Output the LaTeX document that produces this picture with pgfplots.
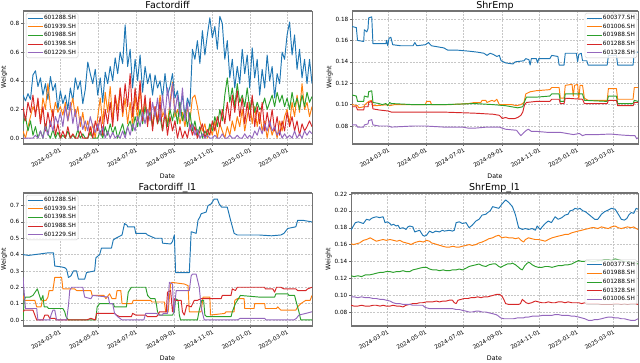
\documentclass[border=0pt]{standalone}
\usepackage{fontspec}
\setmainfont{DejaVu Sans}
\usepackage{pgfplots}
\usepackage{pgfplotstable}
\pgfplotsset{compat=1.18}
\definecolor{c0}{HTML}{1F77B4}
\definecolor{c1}{HTML}{FF7F0E}
\definecolor{c2}{HTML}{2CA02C}
\definecolor{c3}{HTML}{D62728}
\definecolor{c4}{HTML}{9467BD}

% day index: 0 = 2024-01-01
\pgfplotstableread{
d a b c e f
1 0.30 0.05 0.10 0.22 0.00
5 0.26 0.00 0.15 0.12 0.00
9 0.31 0.08 0.05 0.25 0.00
13 0.27 0.15 0.12 0.18 0.00
17 0.44 0.22 0.02 0.30 0.00
21 0.47 0.18 0.08 0.15 0.02
25 0.36 0.25 0.00 0.28 0.00
29 0.42 0.12 0.05 0.10 0.05
33 0.30 0.28 0.00 0.22 0.00
37 0.38 0.20 0.10 0.05 0.08
41 0.27 0.38 0.03 0.18 0.02
45 0.43 0.22 0.00 0.08 0.12
49 0.33 0.15 0.06 0.20 0.05
53 0.38 0.25 0.00 0.02 0.15
57 0.20 0.18 0.04 0.10 0.10
61 0.33 0.22 0.00 0.00 0.18
65 0.24 0.16 0.02 0.05 0.08
69 0.30 0.25 0.00 0.00 0.22
73 0.20 0.12 0.05 0.08 0.12
77 0.35 0.20 0.00 0.00 0.25
81 0.26 0.28 0.02 0.03 0.10
85 0.42 0.15 0.00 0.00 0.20
89 0.34 0.22 0.06 0.00 0.05
93 0.40 0.08 0.00 0.05 0.15
97 0.24 0.18 0.03 0.00 0.06
101 0.34 0.05 0.00 0.00 0.12
105 0.53 0.12 0.00 0.00 0.05
109 0.45 0.02 0.04 0.08 0.15
113 0.38 0.10 0.00 0.00 0.08
117 0.48 0.00 0.00 0.12 0.04
121 0.30 0.15 0.00 0.05 0.10
125 0.42 0.28 0.05 0.15 0.02
129 0.25 0.10 0.00 0.02 0.08
133 0.46 0.32 0.08 0.20 0.00
137 0.38 0.18 0.02 0.10 0.05
141 0.50 0.36 0.10 0.25 0.00
145 0.40 0.12 0.03 0.08 0.04
149 0.56 0.30 0.08 0.30 0.00
153 0.45 0.20 0.00 0.12 0.02
157 0.60 0.35 0.05 0.35 0.00
161 0.52 0.15 0.10 0.18 0.05
165 0.79 0.28 0.02 0.38 0.00
169 0.50 0.10 0.08 0.22 0.08
173 0.62 0.25 0.12 0.45 0.02
177 0.35 0.08 0.05 0.15 0.10
181 0.55 0.30 0.15 0.35 0.05
185 0.40 0.12 0.08 0.20 0.15
189 0.58 0.35 0.20 0.40 0.08
193 0.32 0.15 0.10 0.12 0.18
197 0.50 0.28 0.22 0.30 0.10
201 0.38 0.10 0.12 0.08 0.20
205 0.45 0.25 0.18 0.28 0.12
209 0.30 0.08 0.08 0.05 0.25
213 0.44 0.22 0.20 0.22 0.15
217 0.35 0.12 0.10 0.10 0.28
221 0.40 0.30 0.15 0.25 0.12
225 0.28 0.15 0.05 0.05 0.30
229 0.45 0.20 0.18 0.18 0.15
233 0.30 0.10 0.08 0.02 0.35
237 0.36 0.25 0.20 0.15 0.20
241 0.45 0.39 0.12 0.05 0.38
245 0.28 0.15 0.22 0.12 0.18
249 0.33 0.20 0.10 0.00 0.30
253 0.20 0.10 0.25 0.08 0.15
257 0.30 0.18 0.12 0.00 0.35
261 0.15 0.08 0.20 0.05 0.12
265 0.28 0.22 0.08 0.00 0.25
269 0.22 0.12 0.18 0.10 0.05
273 0.62 0.28 0.05 0.02 0.10
277 0.55 0.30 0.12 0.08 0.02
281 0.68 0.22 0.02 0.00 0.06
285 0.52 0.12 0.08 0.05 0.00
289 0.75 0.05 0.00 0.10 0.03
293 0.58 0.10 0.05 0.00 0.00
297 0.72 0.00 0.02 0.06 0.02
301 0.84 0.08 0.10 0.02 0.00
305 0.70 0.02 0.05 0.12 0.00
309 0.78 0.12 0.15 0.05 0.02
313 0.62 0.00 0.08 0.15 0.00
317 0.85 0.10 0.20 0.08 0.00
321 0.80 0.05 0.12 0.20 0.03
325 0.55 0.00 0.30 0.10 0.00
329 0.68 0.08 0.42 0.25 0.00
333 0.42 0.02 0.25 0.12 0.02
337 0.55 0.12 0.35 0.30 0.00
341 0.35 0.05 0.22 0.18 0.00
345 0.50 0.15 0.38 0.33 0.02
349 0.38 0.08 0.25 0.15 0.00
353 0.62 0.20 0.30 0.28 0.00
357 0.45 0.05 0.22 0.10 0.03
361 0.58 0.15 0.35 0.25 0.00
365 0.35 0.25 0.20 0.12 0.02
369 0.63 0.10 0.28 0.30 0.00
373 0.42 0.22 0.18 0.08 0.05
377 0.55 0.08 0.25 0.22 0.02
381 0.30 0.18 0.20 0.10 0.08
385 0.48 0.05 0.22 0.25 0.03
389 0.35 0.12 0.28 0.05 0.10
393 0.58 0.00 0.20 0.18 0.05
397 0.40 0.10 0.25 0.08 0.12
401 0.50 0.02 0.30 0.20 0.05
405 0.28 0.08 0.22 0.05 0.08
409 0.45 0.00 0.32 0.15 0.02
413 0.38 0.12 0.25 0.02 0.05
417 0.60 0.05 0.30 0.12 0.00
421 0.55 0.15 0.22 0.05 0.03
425 0.72 0.20 0.28 0.18 0.00
429 0.81 0.10 0.20 0.08 0.02
433 0.58 0.25 0.32 0.15 0.00
437 0.72 0.15 0.22 0.05 0.05
441 0.48 0.30 0.28 0.12 0.00
445 0.62 0.18 0.20 0.02 0.03
449 0.42 0.38 0.30 0.10 0.00
453 0.55 0.20 0.22 0.05 0.05
457 0.38 0.25 0.32 0.08 0.02
461 0.55 0.15 0.25 0.12 0.05
465 0.38 0.22 0.29 0.08 0.03
}\factordiff

\newcommand{\sm}{\fontsize{5.7}{6.5}\selectfont}
\pgfplotsset{
  base/.style={
    scale only axis, anchor=south west, height=133pt,
    xmin=1, xmax=465,
    xtick={60,121,182,244,305,366,425},
    xticklabels={2024-03-01,2024-05-01,2024-07-01,2024-09-01,2024-11-01,2025-01-01,2025-03-01},
    xticklabel style={rotate=30, anchor=north east, font=\sm, inner sep=1pt},
    yticklabel style={font=\sm, inner sep=1.5pt},
    /pgf/number format/assume math mode=true,
    grid=major, major grid style={dashed, dash pattern=on 2pt off 1.2pt, black!22, line width=0.4pt},
    axis line style={black!55, line width=0.5pt},
    tick align=outside, tick pos=left, major tick length=2pt, tick style={black!60, line width=0.4pt},
    xlabel=Date, ylabel=Weight, label style={font=\fontsize{6.3}{7}\selectfont},
    ylabel style={yshift=-2pt}, xlabel style={yshift=-1.5pt},
    title style={font=\fontsize{9.5}{10}\selectfont, at={(0.5,1)}, anchor=base, yshift=-3.8pt},
    every axis plot/.append style={line width=0.95pt, mark=none, line join=round},
    legend style={font=\fontsize{5.8}{6.5}\selectfont, draw=black!20, rounded corners=1.5pt, fill=white, fill opacity=0.85, text opacity=1, inner sep=1.2pt, row sep=1.3pt,
      nodes={inner sep=0.8pt}},
    legend image code/.code={\draw[#1] (0pt,0pt) -- (15pt,0pt);},
    legend cell align=left,
    after end axis/.code={
      \draw[line width=2.2pt, black!55] (rel axis cs:0,1) -- (rel axis cs:1,1);
      \draw[line width=2.2pt, black!55] (rel axis cs:0,0) -- (rel axis cs:1,0);
    },
  },
}

\begin{document}
\begin{tikzpicture}
\path[use as bounding box] (0,0) rectangle (640pt,363pt);

% ---- Factordiff
\begin{axis}[base, at={(23pt,219pt)}, width=289pt, ymin=-0.041, ymax=0.887,
  ytick={0,0.2,0.4,0.6,0.8}, yticklabel style={/pgf/number format/.cd, fixed, fixed zerofill, precision=1},
  title={Factordiff}, legend style={at={(0.01,0.985)}, anchor=north west}]
\addplot[c0] table[x=d, y=a] {\factordiff};
\addplot[c1] table[x=d, y=b] {\factordiff};
\addplot[c2] table[x=d, y=c] {\factordiff};
\addplot[c3] table[x=d, y=e] {\factordiff};
\addplot[c4] table[x=d, y=f] {\factordiff};
\legend{601288.SH,601939.SH,601988.SH,601398.SH,601229.SH}
\end{axis}

% ---- ShrEmp
\begin{axis}[base, at={(352pt,219pt)}, width=286pt, ymin=0.0632, ymax=0.1875,
  ytick={0.08,0.10,0.12,0.14,0.16,0.18}, yticklabel style={/pgf/number format/.cd, fixed, fixed zerofill, precision=2},
  title={ShrEmp}, legend style={at={(0.997,0.985)}, anchor=north east}]
\addplot[c0] coordinates {(1,0.173)(8,0.172)(10,0.160)(20,0.159)(21,0.170)(25,0.168)(27,0.171)(28,0.181)(33,0.182)(35,0.157)(56,0.157)(57,0.160)(59,0.155)(61,0.162)(64,0.163)(67,0.156)(80,0.155)(100,0.155)(103,0.158)(106,0.155)(120,0.156)(125,0.158)(130,0.155)(150,0.153)(156,0.151)(170,0.151)(190,0.150)(205,0.149)(215,0.148)(220,0.146)(225,0.148)(230,0.147)(236,0.145)(240,0.146)(243,0.141)(250,0.139)(262,0.138)(266,0.140)(280,0.141)(283,0.143)(288,0.142)(290,0.137)(292,0.143)(300,0.143)(302,0.139)(304,0.143)(322,0.143)(325,0.146)(335,0.145)(337,0.137)(345,0.137)(347,0.148)(365,0.148)(367,0.140)(369,0.147)(373,0.148)(375,0.141)(382,0.141)(384,0.137)(415,0.137)(417,0.146)(430,0.146)(432,0.137)(457,0.137)(459,0.149)(465,0.149)};
\addplot[c1] coordinates {(1,0.100)(10,0.099)(12,0.097)(20,0.098)(22,0.100)(28,0.103)(33,0.104)(35,0.099)(40,0.099)(60,0.100)(62,0.099)(70,0.100)(100,0.100)(120,0.100)(122,0.103)(128,0.103)(130,0.100)(160,0.100)(190,0.101)(200,0.102)(210,0.102)(212,0.104)(218,0.104)(220,0.102)(228,0.104)(232,0.103)(236,0.105)(240,0.100)(260,0.100)(268,0.099)(275,0.100)(280,0.102)(283,0.110)(290,0.112)(300,0.113)(322,0.114)(325,0.116)(337,0.116)(339,0.106)(345,0.106)(347,0.118)(358,0.119)(360,0.108)(362,0.118)(367,0.119)(369,0.105)(371,0.118)(375,0.118)(378,0.106)(384,0.104)(415,0.104)(417,0.115)(430,0.115)(432,0.105)(457,0.105)(459,0.116)(465,0.116)};
\addplot[c2] coordinates {(1,0.109)(8,0.108)(10,0.103)(20,0.103)(21,0.108)(27,0.107)(28,0.112)(33,0.113)(35,0.102)(45,0.101)(50,0.100)(56,0.101)(59,0.099)(62,0.102)(65,0.101)(100,0.100)(150,0.100)(200,0.101)(230,0.100)(250,0.099)(270,0.097)(278,0.098)(281,0.103)(284,0.107)(300,0.107)(322,0.108)(325,0.110)(337,0.110)(339,0.103)(345,0.103)(347,0.110)(375,0.110)(378,0.104)(415,0.103)(417,0.108)(430,0.108)(432,0.101)(457,0.101)(459,0.104)(465,0.103)};
\addplot[c3] coordinates {(1,0.098)(8,0.098)(10,0.095)(20,0.095)(21,0.098)(27,0.098)(28,0.102)(33,0.103)(35,0.096)(45,0.095)(60,0.094)(65,0.093)(100,0.093)(150,0.093)(200,0.092)(230,0.091)(240,0.090)(245,0.087)(250,0.088)(255,0.087)(265,0.087)(270,0.088)(275,0.090)(278,0.093)(281,0.100)(284,0.102)(300,0.103)(322,0.103)(325,0.105)(337,0.105)(339,0.101)(345,0.101)(347,0.106)(375,0.105)(378,0.101)(415,0.101)(417,0.104)(430,0.104)(432,0.099)(457,0.099)(459,0.102)(465,0.102)};
\addplot[c4] coordinates {(1,0.081)(8,0.081)(10,0.079)(20,0.079)(21,0.081)(27,0.082)(28,0.085)(33,0.086)(35,0.081)(45,0.080)(60,0.080)(65,0.079)(100,0.080)(120,0.080)(150,0.079)(180,0.079)(190,0.078)(200,0.078)(220,0.079)(240,0.079)(245,0.078)(250,0.077)(268,0.076)(272,0.073)(275,0.071)(280,0.074)(284,0.076)(287,0.077)(292,0.075)(300,0.075)(320,0.074)(340,0.074)(350,0.073)(360,0.072)(370,0.073)(375,0.071)(380,0.072)(400,0.072)(420,0.0725)(440,0.0715)(455,0.071)(460,0.071)(463,0.068)(465,0.069)};
\legend{600377.SH,601006.SH,601988.SH,601288.SH,601328.SH}
\end{axis}

% ---- Factordiff_l1
\begin{axis}[base, at={(23pt,37pt)}, width=289pt, ymin=-0.037, ymax=0.777,
  ytick={0,0.1,0.2,0.3,0.4,0.5,0.6,0.7}, yticklabel style={/pgf/number format/.cd, fixed, fixed zerofill, precision=1},
  title={Factordiff\_l1}, legend style={at={(0.01,0.985)}, anchor=north west}]
\addplot[c0] coordinates {(1,0.40)(10,0.395)(20,0.40)(30,0.405)(40,0.41)(50,0.41)(52,0.33)(62,0.325)(68,0.32)(71,0.31)(74,0.26)(78,0.27)(82,0.30)(87,0.30)(90,0.25)(100,0.25)(103,0.29)(116,0.30)(118,0.38)(124,0.40)(127,0.44)(143,0.44)(146,0.49)(150,0.50)(160,0.52)(164,0.59)(168,0.58)(169,0.57)(180,0.57)(182,0.53)(198,0.53)(201,0.52)(213,0.50)(224,0.50)(225,0.47)(238,0.465)(241,0.48)(244,0.52)(246,0.29)(268,0.29)(271,0.54)(279,0.53)(282,0.61)(285,0.63)(287,0.65)(295,0.66)(298,0.70)(303,0.71)(308,0.74)(313,0.74)(316,0.71)(320,0.69)(329,0.69)(335,0.60)(340,0.53)(345,0.52)(380,0.52)(400,0.515)(415,0.52)(420,0.53)(426,0.56)(439,0.57)(442,0.61)(450,0.61)(465,0.60)};
\addplot[c1] coordinates {(1,0.15)(3,0.12)(20,0.12)(23,0.08)(30,0.08)(32,0.12)(38,0.12)(41,0.14)(43,0.18)(49,0.18)(52,0.26)(63,0.26)(65,0.19)(84,0.19)(87,0.18)(110,0.18)(112,0.15)(131,0.15)(134,0.13)(140,0.16)(144,0.13)(150,0.13)(152,0.18)(158,0.18)(160,0.10)(176,0.10)(178,0.12)(206,0.12)(208,0.11)(228,0.11)(230,0.05)(234,0.05)(238,0.22)(240,0.23)(260,0.22)(266,0.21)(268,0.05)(287,0.05)(290,0.14)(301,0.14)(302,0.03)(325,0.04)(327,0.05)(340,0.05)(341,0.12)(345,0.13)(356,0.13)(357,0.07)(372,0.07)(373,0.10)(389,0.10)(390,0.07)(408,0.07)(410,0.08)(415,0.06)(439,0.06)(442,0.08)(447,0.10)(455,0.12)(462,0.12)(465,0.15)};
\addplot[c2] coordinates {(1,0.0)(3,0.12)(5,0.14)(12,0.14)(17,0.15)(24,0.19)(30,0.12)(33,0.15)(35,0.08)(40,0.08)(42,0.07)(65,0.07)(68,0.05)(70,0.02)(74,0.0)(118,0.0)(120,0.08)(124,0.10)(146,0.10)(148,0.08)(167,0.08)(170,0.17)(175,0.20)(198,0.20)(201,0.15)(206,0.13)(213,0.13)(215,0.10)(217,0.05)(220,0.03)(241,0.03)(244,0.05)(246,0.13)(250,0.12)(252,0.03)(254,0.0)(281,0.0)(284,0.06)(288,0.12)(291,0.12)(293,0.03)(296,0.02)(335,0.02)(337,0.05)(342,0.10)(350,0.15)(380,0.14)(405,0.14)(407,0.16)(426,0.16)(428,0.15)(437,0.15)(439,0.12)(444,0.05)(447,0.0)(465,0.0)};
\addplot[c3] coordinates {(1,0.05)(3,0.06)(17,0.06)(20,0.03)(23,0.0)(33,0.0)(36,0.03)(41,0.03)(44,0.01)(52,0.01)(55,0.0)(103,0.0)(110,0.01)(117,0.0)(119,0.04)(148,0.04)(151,0.03)(156,0.02)(175,0.02)(177,0.04)(182,0.03)(198,0.03)(201,0.02)(215,0.02)(218,0.03)(220,0.05)(231,0.05)(233,0.17)(238,0.18)(241,0.05)(244,0.13)(246,0.12)(255,0.12)(257,0.05)(260,0.03)(264,0.09)(271,0.08)(276,0.12)(281,0.12)(287,0.13)(319,0.13)(321,0.15)(335,0.15)(337,0.19)(342,0.18)(345,0.20)(389,0.20)(390,0.19)(402,0.19)(405,0.17)(408,0.20)(415,0.20)(420,0.19)(439,0.19)(442,0.18)(455,0.18)(458,0.19)(465,0.20)};
\addplot[c4] coordinates {(1,0.26)(5,0.07)(23,0.07)(24,0.03)(25,0.0)(44,0.0)(46,0.03)(49,0.06)(52,0.06)(55,0.0)(71,0.0)(74,0.09)(76,0.18)(79,0.20)(97,0.20)(100,0.14)(110,0.13)(113,0.15)(138,0.14)(140,0.10)(145,0.10)(148,0.04)(153,0.02)(160,0.0)(195,0.0)(198,0.04)(215,0.04)(220,0.03)(225,0.03)(226,0.04)(233,0.04)(236,0.23)(241,0.22)(243,0.04)(247,0.18)(268,0.18)(271,0.27)(273,0.28)(279,0.28)(284,0.20)(287,0.08)(290,0.03)(292,0.0)(345,0.0)(350,0.01)(389,0.01)(391,0.0)(436,0.0)(440,0.01)(444,0.03)(455,0.04)(465,0.05)};
\legend{601288.SH,601939.SH,601398.SH,601988.SH,601229.SH}
\end{axis}

% ---- ShrEmp_l1
\begin{axis}[base, at={(351pt,37pt)}, width=287pt, ymin=0.0634, ymax=0.2212,
  ytick={0.08,0.10,0.12,0.14,0.16,0.18,0.20,0.22}, yticklabel style={/pgf/number format/.cd, fixed, fixed zerofill, precision=2},
  title={ShrEmp\_l1}, legend style={at={(0.997,0.33)}, anchor=east}]
\addplot[c0] coordinates {(1,0.177)(4,0.181)(8,0.186)(13,0.187)(17,0.186)(21,0.185)(26,0.190)(31,0.189)(34,0.191)(37,0.192)(42,0.193)(47,0.192)(53,0.193)(56,0.186)(60,0.187)(64,0.185)(66,0.183)(70,0.184)(74,0.182)(77,0.183)(80,0.179)(85,0.180)(90,0.178)(93,0.181)(96,0.182)(101,0.181)(104,0.175)(108,0.176)(112,0.177)(117,0.171)(120,0.170)(123,0.171)(128,0.176)(133,0.174)(138,0.176)(144,0.175)(149,0.177)(152,0.176)(160,0.177)(165,0.176)(168,0.177)(171,0.186)(176,0.187)(181,0.185)(187,0.186)(192,0.180)(197,0.183)(203,0.188)(208,0.190)(213,0.195)(219,0.196)(222,0.198)(226,0.200)(230,0.205)(235,0.204)(240,0.203)(245,0.208)(251,0.213)(256,0.210)(262,0.205)(267,0.195)(272,0.180)(278,0.178)(283,0.179)(288,0.178)(294,0.179)(299,0.177)(302,0.182)(307,0.178)(310,0.181)(315,0.185)(320,0.188)(325,0.186)(331,0.193)(336,0.190)(342,0.192)(347,0.195)(352,0.196)(355,0.200)(360,0.201)(363,0.203)(368,0.202)(371,0.203)(376,0.200)(380,0.199)(385,0.196)(390,0.193)(395,0.190)(400,0.190)(406,0.196)(411,0.199)(417,0.201)(422,0.203)(428,0.202)(434,0.195)(438,0.190)(443,0.189)(447,0.191)(450,0.195)(454,0.198)(458,0.197)(462,0.203)(465,0.202)};
\addplot[c1] coordinates {(1,0.161)(5,0.160)(10,0.161)(15,0.162)(21,0.165)(26,0.166)(32,0.168)(37,0.166)(42,0.164)(47,0.165)(53,0.166)(58,0.165)(64,0.166)(70,0.165)(75,0.164)(80,0.165)(85,0.163)(90,0.162)(95,0.161)(98,0.160)(103,0.162)(107,0.163)(112,0.164)(118,0.163)(123,0.165)(128,0.164)(131,0.162)(136,0.161)(140,0.160)(145,0.159)(149,0.158)(155,0.157)(160,0.157)(166,0.158)(171,0.157)(176,0.157)(181,0.158)(187,0.159)(192,0.160)(197,0.159)(203,0.160)(208,0.162)(213,0.163)(219,0.165)(224,0.167)(230,0.168)(235,0.170)(240,0.171)(245,0.168)(251,0.169)(256,0.168)(262,0.168)(267,0.167)(272,0.168)(276,0.165)(280,0.163)(283,0.166)(288,0.168)(293,0.167)(299,0.166)(304,0.166)(310,0.165)(315,0.164)(320,0.166)(326,0.168)(331,0.169)(336,0.170)(342,0.171)(347,0.172)(352,0.172)(358,0.174)(363,0.175)(368,0.176)(374,0.177)(379,0.178)(385,0.179)(390,0.180)(395,0.180)(400,0.179)(406,0.181)(411,0.180)(417,0.179)(422,0.181)(428,0.182)(433,0.180)(438,0.179)(443,0.180)(448,0.181)(454,0.180)(458,0.181)(462,0.179)(465,0.178)};
\addplot[c2] coordinates {(1,0.123)(6,0.122)(12,0.123)(18,0.122)(24,0.124)(31,0.124)(37,0.125)(42,0.126)(48,0.127)(53,0.127)(58,0.128)(64,0.128)(69,0.127)(75,0.128)(80,0.128)(85,0.129)(90,0.128)(96,0.128)(101,0.130)(107,0.131)(112,0.132)(118,0.133)(123,0.133)(128,0.131)(133,0.130)(139,0.130)(144,0.129)(150,0.130)(155,0.129)(160,0.129)(165,0.130)(171,0.130)(176,0.131)(181,0.130)(187,0.132)(192,0.134)(197,0.135)(203,0.136)(208,0.137)(213,0.135)(219,0.134)(224,0.136)(230,0.137)(235,0.137)(240,0.134)(243,0.133)(248,0.135)(254,0.137)(259,0.137)(262,0.138)(267,0.136)(272,0.133)(275,0.131)(278,0.130)(282,0.135)(286,0.138)(289,0.139)(294,0.136)(299,0.134)(304,0.133)(310,0.133)(315,0.134)(320,0.134)(326,0.133)(331,0.134)(336,0.135)(342,0.135)(347,0.136)(352,0.136)(358,0.137)(363,0.139)(369,0.141)(374,0.140)(379,0.140)(385,0.141)(390,0.140)(395,0.140)(400,0.141)(406,0.141)(411,0.142)(417,0.142)(422,0.141)(428,0.143)(433,0.142)(438,0.141)(443,0.140)(448,0.140)(454,0.139)(460,0.138)(465,0.137)};
\addplot[c3] coordinates {(1,0.088)(6,0.087)(12,0.087)(18,0.088)(24,0.087)(31,0.087)(37,0.088)(42,0.088)(48,0.087)(53,0.088)(58,0.087)(64,0.087)(69,0.088)(75,0.087)(80,0.087)(85,0.086)(90,0.088)(96,0.089)(101,0.090)(107,0.090)(112,0.091)(117,0.091)(123,0.092)(128,0.092)(133,0.092)(139,0.093)(144,0.092)(150,0.093)(155,0.093)(160,0.094)(165,0.094)(168,0.091)(171,0.090)(174,0.094)(179,0.095)(184,0.096)(190,0.096)(195,0.097)(200,0.097)(206,0.098)(211,0.097)(216,0.098)(222,0.098)(227,0.099)(232,0.100)(237,0.101)(241,0.101)(245,0.099)(248,0.095)(251,0.090)(256,0.089)(262,0.089)(267,0.089)(272,0.089)(275,0.090)(278,0.095)(281,0.093)(284,0.091)(288,0.090)(293,0.091)(299,0.093)(304,0.092)(310,0.091)(315,0.091)(320,0.092)(326,0.091)(331,0.091)(336,0.092)(342,0.092)(347,0.091)(352,0.092)(358,0.091)(363,0.091)(369,0.091)(374,0.090)(379,0.091)(385,0.090)(390,0.090)(395,0.090)(400,0.090)(406,0.089)(411,0.089)(417,0.089)(422,0.089)(428,0.090)(433,0.090)(438,0.089)(443,0.090)(448,0.089)(454,0.090)(460,0.090)(465,0.089)};
\addplot[c4] coordinates {(1,0.098)(6,0.098)(12,0.097)(18,0.098)(24,0.097)(31,0.097)(37,0.096)(42,0.096)(48,0.095)(53,0.095)(58,0.094)(64,0.093)(69,0.091)(74,0.090)(80,0.090)(85,0.089)(90,0.089)(96,0.089)(101,0.088)(106,0.088)(112,0.088)(117,0.088)(120,0.086)(123,0.085)(128,0.084)(133,0.084)(139,0.084)(144,0.084)(150,0.084)(155,0.084)(160,0.084)(165,0.084)(171,0.083)(176,0.083)(181,0.082)(187,0.081)(192,0.080)(197,0.080)(203,0.081)(208,0.081)(213,0.080)(219,0.080)(224,0.079)(230,0.078)(235,0.077)(238,0.076)(243,0.073)(248,0.072)(254,0.072)(259,0.072)(264,0.072)(270,0.073)(275,0.073)(280,0.073)(283,0.074)(288,0.074)(294,0.075)(299,0.075)(304,0.075)(310,0.076)(315,0.076)(320,0.076)(326,0.076)(331,0.077)(336,0.077)(342,0.076)(347,0.076)(352,0.076)(358,0.075)(363,0.075)(369,0.074)(374,0.073)(379,0.072)(385,0.070)(390,0.070)(395,0.071)(400,0.071)(406,0.072)(411,0.073)(417,0.074)(422,0.074)(428,0.073)(433,0.073)(438,0.072)(443,0.072)(448,0.071)(454,0.070)(460,0.070)(465,0.072)};
\legend{600377.SH,601988.SH,601288.SH,601328.SH,601006.SH}
\end{axis}
\end{tikzpicture}
\end{document}
